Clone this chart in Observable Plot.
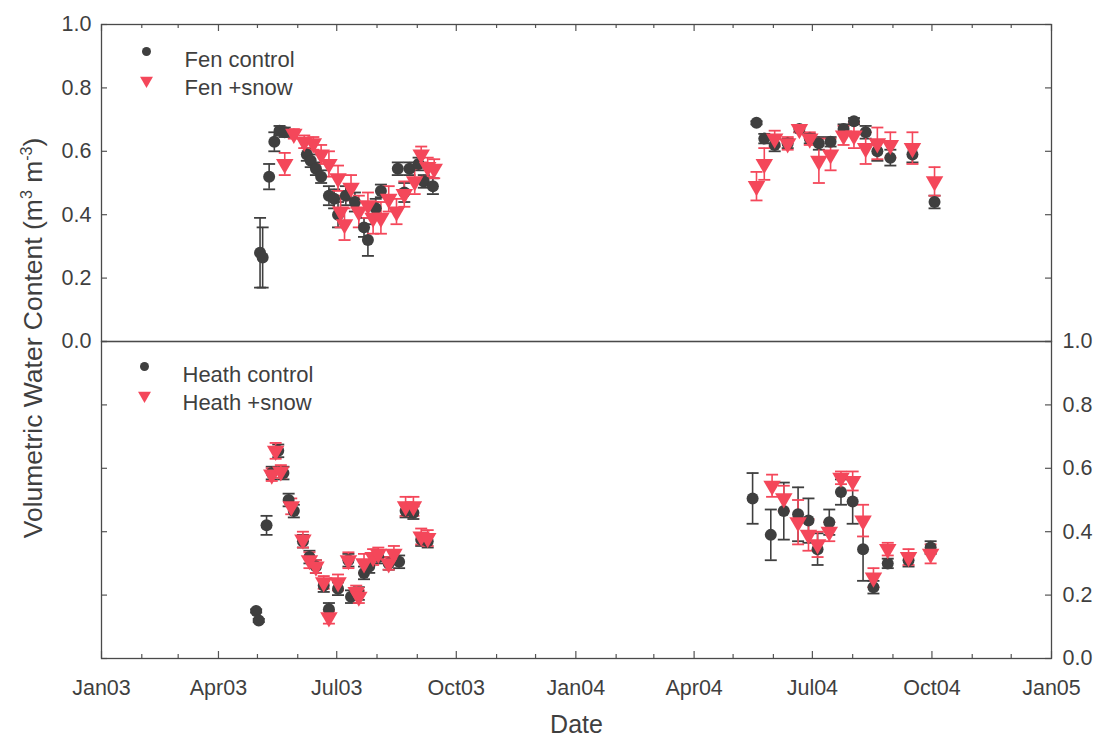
<!DOCTYPE html>
<html><head><meta charset="utf-8">
<script src="https://cdn.jsdelivr.net/npm/d3@7"></script>
<script src="https://cdn.jsdelivr.net/npm/@observablehq/plot@0.6"></script>
<style>
body{margin:0;background:#fff;font-family:"Liberation Sans",Arial,sans-serif;}
#wrap{position:relative;width:1096px;height:739px;overflow:hidden;background:#fff;}
#top,#bot{position:absolute;left:0;}
#top{top:0}
#bot{top:341px}
#ylab{position:absolute;left:33px;top:338px;transform:translate(-50%,-50%) rotate(-90deg);white-space:nowrap;font-size:26.5px;color:#3f3f3f;}
#ylab sup{font-size:16px;vertical-align:10px;line-height:0;}
</style></head><body>
<div id="wrap"><div id="top"></div><div id="bot"></div><div id="ylab">Volumetric Water Content (m<sup>3</sup> m<sup>-3</sup>)</div></div>
<script>
// ---------- data ----------
const fenControlDates = ["2003-05-03","2003-05-05","2003-05-10","2003-05-14","2003-05-18","2003-05-22","2003-06-08","2003-06-11","2003-06-15","2003-06-19","2003-06-25","2003-06-29","2003-07-02","2003-07-08","2003-07-15","2003-07-22","2003-07-25","2003-07-31","2003-08-04","2003-08-17","2003-08-22","2003-08-26","2003-09-02","2003-09-06","2003-09-13",
  "2004-05-19","2004-05-25","2004-06-02","2004-06-12","2004-06-21","2004-06-29","2004-07-06","2004-07-15","2004-07-25","2004-08-02","2004-08-11","2004-08-20","2004-08-30","2004-09-16","2004-10-03"];
const fenControlValues = [0.28,0.265,0.52,0.63,0.665,0.66,0.59,0.57,0.545,0.52,0.46,0.45,0.40,0.46,0.44,0.36,0.32,0.42,0.475,0.545,0.47,0.545,0.56,0.505,0.49,
  0.69,0.64,0.62,0.625,0.67,0.64,0.625,0.63,0.67,0.695,0.66,0.60,0.58,0.59,0.44];
const fenControlErrors = [0.11,0.095,0.04,0.03,0.015,0.015,0.02,0.02,0.02,0.02,0.03,0.03,0.04,0.03,0.03,0.03,0.05,0.03,0.02,0.02,0.03,0.02,0.02,0.02,0.025,
  0.005,0.015,0.02,0.015,0.01,0.015,0.02,0.015,0.015,0.01,0.02,0.03,0.025,0.025,0.02];

const fenSnowDates = ["2003-05-22","2003-05-29","2003-06-06","2003-06-13","2003-06-19","2003-06-25","2003-07-02","2003-07-04","2003-07-07","2003-07-12","2003-07-18","2003-07-25","2003-07-29","2003-08-04","2003-08-10","2003-08-16","2003-08-22","2003-08-30","2003-09-04","2003-09-09","2003-09-14",
  "2004-05-19","2004-05-25","2004-06-02","2004-06-12","2004-06-21","2004-06-29","2004-07-06","2004-07-15","2004-07-25","2004-08-02","2004-08-11","2004-08-20","2004-08-30","2004-09-16","2004-10-03"];
const fenSnowValues = [0.56,0.655,0.63,0.625,0.59,0.56,0.515,0.41,0.37,0.485,0.41,0.43,0.39,0.39,0.45,0.41,0.465,0.505,0.59,0.55,0.545,
  0.49,0.56,0.64,0.625,0.67,0.64,0.57,0.59,0.65,0.65,0.61,0.625,0.62,0.61,0.505];
const fenSnowErrors = [0.035,0.015,0.02,0.02,0.03,0.04,0.04,0.05,0.05,0.04,0.05,0.04,0.05,0.05,0.04,0.04,0.04,0.04,0.025,0.03,0.03,
  0.045,0.05,0.025,0.02,0.01,0.02,0.07,0.05,0.03,0.04,0.05,0.05,0.04,0.05,0.045];

const heathControlDates = ["2003-04-30","2003-05-02","2003-05-08","2003-05-12","2003-05-17","2003-05-21","2003-05-25","2003-05-29","2003-06-05","2003-06-10","2003-06-15","2003-06-21","2003-06-25","2003-07-02","2003-07-10","2003-07-12","2003-07-18","2003-07-22","2003-07-26","2003-08-02","2003-08-10","2003-08-18","2003-08-23","2003-08-29","2003-09-04","2003-09-09",
  "2004-05-16","2004-05-30","2004-06-09","2004-06-20","2004-06-28","2004-07-05","2004-07-14","2004-07-23","2004-08-01","2004-08-09","2004-08-17","2004-08-28","2004-09-13","2004-09-30"];
const heathControlValues = [0.15,0.12,0.42,0.585,0.655,0.585,0.50,0.465,0.37,0.32,0.29,0.23,0.155,0.22,0.31,0.195,0.205,0.27,0.29,0.32,0.30,0.305,0.465,0.46,0.375,0.37,
  0.505,0.39,0.465,0.455,0.435,0.345,0.43,0.525,0.495,0.345,0.225,0.30,0.31,0.35];
const heathControlErrors = [0.005,0.005,0.03,0.02,0.02,0.02,0.02,0.02,0.02,0.02,0.02,0.02,0.02,0.02,0.02,0.02,0.02,0.02,0.02,0.02,0.02,0.02,0.02,0.02,0.02,0.02,
  0.08,0.08,0.09,0.085,0.07,0.05,0.04,0.04,0.07,0.10,0.02,0.015,0.02,0.02];

const heathSnowDates = ["2003-05-12","2003-05-15","2003-05-19","2003-05-27","2003-06-05","2003-06-10","2003-06-15","2003-06-21","2003-06-25","2003-07-02","2003-07-10","2003-07-16","2003-07-18","2003-07-22","2003-07-29","2003-08-02","2003-08-10","2003-08-14","2003-08-23","2003-08-29","2003-09-04","2003-09-09",
  "2004-05-31","2004-06-09","2004-06-20","2004-06-28","2004-07-05","2004-07-14","2004-07-23","2004-08-01","2004-08-09","2004-08-17","2004-08-28","2004-09-13","2004-09-30"];
const heathSnowValues = [0.58,0.655,0.59,0.48,0.375,0.31,0.29,0.24,0.13,0.24,0.31,0.21,0.195,0.30,0.32,0.33,0.30,0.33,0.48,0.48,0.385,0.38,
  0.545,0.505,0.43,0.39,0.36,0.40,0.57,0.56,0.435,0.255,0.345,0.32,0.33];
const heathSnowErrors = [0.02,0.025,0.02,0.025,0.025,0.025,0.02,0.02,0.02,0.025,0.025,0.02,0.02,0.03,0.025,0.02,0.02,0.025,0.03,0.03,0.025,0.025,
  0.035,0.04,0.07,0.05,0.04,0.03,0.02,0.03,0.05,0.03,0.02,0.025,0.03];

const topLegend = ["Fen control", "Fen +snow"];
const bottomLegend = ["Heath control", "Heath +snow"];
const xTickLabels = ["Jan03","Apr03","Jul03","Oct03","Jan04","Apr04","Jul04","Oct04","Jan05"];
const yTickValues = [0.0, 0.2, 0.4, 0.6, 0.8, 1.0];
const yTickLabels = ["0.0","0.2","0.4","0.6","0.8","1.0"];
const xDomain = ["2003-01-01", "2005-01-01"];
const axisTitleX = "Date";

// ---------- styling ----------
const CTRL = "#3f3f3f";
const SNOW = "#f4475a";
const TEXT = "#3f3f3f";
const W = 1096, ML = 101, MR = 45, FH = 317, FW = W - ML - MR;
const FONT = "'Liberation Sans', Arial, sans-serif";

const rows = (dates, vals, errs) => dates.map((d, i) => ({date: new Date(d), value: vals[i], err: errs[i]}));
const fenC = rows(fenControlDates, fenControlValues, fenControlErrors);
const fenS = rows(fenSnowDates, fenSnowValues, fenSnowErrors);
const heaC = rows(heathControlDates, heathControlValues, heathControlErrors);
const heaS = rows(heathSnowDates, heathSnowValues, heathSnowErrors);

const domainX = xDomain.map(d => new Date(d));
const monthTicks = d3.utcMonth.range(domainX[0], new Date(+domainX[1] + 1));
const quarterTicks = monthTicks.filter(d => d.getUTCMonth() % 3 === 0);
const labelOf = new Map(quarterTicks.map((d, i) => [+d, xTickLabels[i]]));
const yLabelOf = new Map(yTickValues.map((v, i) => [v, yTickLabels[i]]));

const capSym = {draw(ctx, size) { const w = Math.sqrt(size / Math.PI); ctx.moveTo(-w, 0); ctx.lineTo(w, 0); }};
const triDown = {draw(ctx, size) {
  const s3 = Math.sqrt(3); const y = Math.sqrt(size / (s3 * 3));
  ctx.moveTo(0, y * 2); ctx.lineTo(-s3 * y, -y); ctx.lineTo(s3 * y, -y); ctx.closePath();
}};

function errMarks(data, color) {
  return [
    Plot.ruleX(data, {x: "date", y1: d => d.value - d.err, y2: d => d.value + d.err, stroke: color, strokeWidth: 1.6}),
    Plot.dot(data, {x: "date", y: d => d.value + d.err, symbol: capSym, r: 6, stroke: color, fill: "none", strokeWidth: 1.8}),
    Plot.dot(data, {x: "date", y: d => d.value - d.err, symbol: capSym, r: 6, stroke: color, fill: "none", strokeWidth: 1.8})
  ];
}
function pointMarks(ctrl, snow) {
  return [
    ...errMarks(ctrl, CTRL), ...errMarks(snow, SNOW),
    Plot.dot(ctrl, {x: "date", y: "value", symbol: "circle", r: 6, fill: CTRL, stroke: "none"}),
    Plot.dot(snow, {x: "date", y: "value", symbol: triDown, r: 6.5, fill: SNOW, stroke: "none"})
  ];
}
function legendMarks(labels, dx, dy1, dy2) {
  return [
    Plot.dot([labels[0]], {frameAnchor: "top-left", dx: dx, dy: dy1, symbol: "circle", r: 4.5, fill: CTRL, stroke: "none"}),
    Plot.dot([labels[1]], {frameAnchor: "top-left", dx: dx, dy: dy2 + 1, symbol: triDown, r: 4.8, fill: SNOW, stroke: "none"}),
    Plot.text([labels[0]], {frameAnchor: "top-left", dx: dx + 38, dy: dy1, text: d => d, textAnchor: "start", fontSize: 22, fill: TEXT}),
    Plot.text([labels[1]], {frameAnchor: "top-left", dx: dx + 38, dy: dy2, text: d => d, textAnchor: "start", fontSize: 22, fill: TEXT})
  ];
}
const tickLen = d => (d.getUTCMonth() % 3 === 0 ? 7 : 4);

const common = {
  width: W, marginLeft: ML, marginRight: MR,
  x: {type: "utc", domain: domainX, axis: null},
  y: {domain: [0, 1], axis: null},
  style: {background: "transparent", overflow: "visible", fontFamily: FONT, color: TEXT}
};

const topPlot = Plot.plot({
  ...common,
  height: 24 + FH + 1, marginTop: 24, marginBottom: 1,
  marks: [
    ...monthTicks.map(m => Plot.ruleX([m], {x: d => d, insetBottom: FH - tickLen(m), stroke: "#555", strokeWidth: 1.2})),
    Plot.ruleY(yTickValues, {y: d => d, insetRight: FW - 6, stroke: "#555", strokeWidth: 1.2}),
    Plot.ruleY(yTickValues, {y: d => d, insetLeft: FW - 6, stroke: "#555", strokeWidth: 1.2}),
    Plot.axisY(yTickValues, {anchor: "left", tickSize: 0, tickPadding: 10, tickFormat: v => yLabelOf.get(v), label: null, fontSize: 21.5, fill: TEXT}),
    ...pointMarks(fenC, fenS),
    ...legendMarks(topLegend, 45, 27, 55),
    Plot.frame({stroke: "#4a4a4a", strokeWidth: 1.3})
  ]
});

const botPlot = Plot.plot({
  ...common,
  height: FH + 81, marginTop: 0, marginBottom: 81,
  marks: [
    ...monthTicks.map(m => Plot.ruleX([m], {x: d => d, insetTop: FH - tickLen(m), stroke: "#555", strokeWidth: 1.2})),
    Plot.ruleY(yTickValues, {y: d => d, insetRight: FW - 6, stroke: "#555", strokeWidth: 1.2}),
    Plot.ruleY(yTickValues, {y: d => d, insetLeft: FW - 6, stroke: "#555", strokeWidth: 1.2}),
    Plot.axisY(yTickValues, {anchor: "right", tickSize: 0, tickPadding: 11, tickFormat: v => yLabelOf.get(v), label: null, fontSize: 21.5, fill: TEXT}),
    Plot.axisX(quarterTicks, {anchor: "bottom", tickSize: 0, tickPadding: 21, tickFormat: d => labelOf.get(+d), label: null, fontSize: 21.5, fill: TEXT}),
    Plot.text([axisTitleX], {frameAnchor: "bottom", dy: 74, text: d => d, fontSize: 25, fill: TEXT}),
    ...pointMarks(heaC, heaS),
    ...legendMarks(bottomLegend, 43, 25, 53),
    Plot.frame({stroke: "#4a4a4a", strokeWidth: 1.3})
  ]
});

document.getElementById("top").append(topPlot);
document.getElementById("bot").append(botPlot);
</script>
</body></html>
